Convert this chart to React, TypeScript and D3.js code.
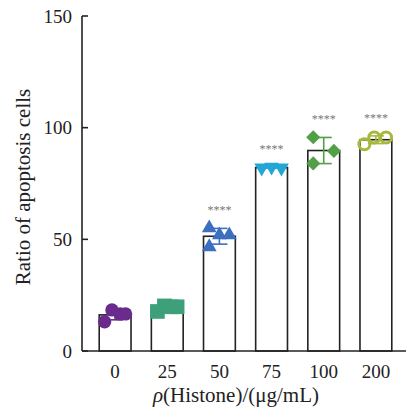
import React, { useEffect, useRef } from "react";
import * as d3 from "d3";

const groups = ["0", "25", "50", "75", "100", "200"];
const colors = ["#6a2c8c", "#3da07a", "#3d6fc0", "#21a6d6", "#52a046", "#a8b83a"];
const shapes = ["circle", "square", "triangle", "triangleDown", "diamond", "ring"];

// replicate values per group
const g0 = [13.1, 18.4, 16.6, 16.6];
const g25 = [17.7, 20.2, 19.8, 19.8];
const g50 = [55.1, 46.6, 51.9, 51.9];
const g75 = [82.0, 82.4, 82.0];
const g100 = [95.7, 89.6, 84.0];
const g200 = [92.6, 95.6, 95.6];
const values = [g0, g25, g50, g75, g100, g200];

// horizontal spread of the dots, as fraction of bar width
const spread = [
  [-0.33, -0.1, 0.16, 0.33],
  [-0.31, -0.09, 0.12, 0.31],
  [-0.32, -0.32, 0, 0.31],
  [-0.31, 0, 0.31],
  [-0.33, 0.32, -0.33],
  [-0.36, -0.05, 0.32],
];

const stars = ["", "", "****", "****", "****", "****"];
const yTicks = [0, 50, 100, 150];

const App = () => {
  const svgRef = useRef(null);

  useEffect(() => {
    const svg = d3.select(svgRef.current);
    svg.selectAll("*").remove();

    const width = 406;
    const height = 409;
    const font = "'Liberation Serif', 'Times New Roman', serif";
    const x0 = 82;
    const yBase = 351;

    const x = d3.scaleBand().domain(groups).range([x0, 409]).paddingInner(0.39).paddingOuter(0.33);
    const y = d3.scaleLinear().domain([0, 150]).range([yBase, 16]);
    const bw = x.bandwidth();

    svg.attr("width", width).attr("height", height);

    const stats = values.map((v) => ({ mean: d3.mean(v), sd: d3.deviation(v) || 0 }));

    // bars
    svg
      .selectAll(".bar")
      .data(groups)
      .join("rect")
      .attr("class", "bar")
      .attr("x", (d) => x(d))
      .attr("y", (d, i) => y(stats[i].mean))
      .attr("width", bw)
      .attr("height", (d, i) => yBase - y(stats[i].mean))
      .attr("fill", "white")
      .attr("stroke", "#222")
      .attr("stroke-width", 1.6);

    // error bars
    groups.forEach((gName, i) => {
      const cx = x(gName) + bw / 2;
      const { mean, sd } = stats[i];
      const eg = svg.append("g").attr("stroke", colors[i]).attr("stroke-width", 1.6);
      eg.append("line").attr("x1", cx).attr("x2", cx).attr("y1", y(mean - sd)).attr("y2", y(mean + sd));
      [mean - sd, mean + sd].forEach((v) => {
        eg.append("line").attr("x1", cx - 8).attr("x2", cx + 8).attr("y1", y(v)).attr("y2", y(v));
      });
    });

    // dots
    const symbolFor = (s) => {
      if (s === "circle") return d3.symbol(d3.symbolCircle, 140)();
      if (s === "square") return d3.symbol(d3.symbolSquare, 215)();
      if (s === "triangle" || s === "triangleDown") return d3.symbol(d3.symbolTriangle, 95)();
      if (s === "diamond") return d3.symbol(d3.symbolSquare, 100)();
      return d3.symbol(d3.symbolCircle, 95)();
    };

    groups.forEach((gName, i) => {
      const cx = x(gName) + bw / 2;
      const s = shapes[i];
      svg
        .append("g")
        .selectAll("path")
        .data(values[i])
        .join("path")
        .attr("d", symbolFor(s))
        .attr("transform", (v, j) => {
          const rot = s === "triangleDown" ? " rotate(180)" : s === "diamond" ? " rotate(45)" : "";
          return `translate(${cx + spread[i][j] * bw},${y(v)})${rot}`;
        })
        .attr("fill", s === "ring" ? "none" : colors[i])
        .attr("stroke", s === "ring" ? colors[i] : "none")
        .attr("stroke-width", 3);
    });

    // significance
    svg
      .selectAll(".star")
      .data(groups)
      .join("text")
      .attr("class", "star")
      .attr("x", (d) => x(d) + bw / 2)
      .attr("y", (d, i) => y(stats[i].mean + stats[i].sd) - 14)
      .attr("text-anchor", "middle")
      .attr("font-family", font)
      .attr("font-size", 12)
      .attr("fill", "#777")
      .text((d, i) => stars[i]);

    // axes
    svg
      .append("line")
      .attr("x1", x0)
      .attr("x2", width)
      .attr("y1", yBase)
      .attr("y2", yBase)
      .attr("stroke", "#222")
      .attr("stroke-width", 1.6);
    svg
      .append("line")
      .attr("x1", x0)
      .attr("x2", x0)
      .attr("y1", y(150))
      .attr("y2", yBase)
      .attr("stroke", "#222")
      .attr("stroke-width", 1.6);

    svg
      .selectAll(".ytick")
      .data(yTicks)
      .join("line")
      .attr("class", "ytick")
      .attr("x1", x0)
      .attr("x2", x0 + 6)
      .attr("y1", (d) => y(d))
      .attr("y2", (d) => y(d))
      .attr("stroke", "#222")
      .attr("stroke-width", 1.6);

    svg
      .selectAll(".ylab")
      .data(yTicks)
      .join("text")
      .attr("class", "ylab")
      .attr("x", x0 - 10)
      .attr("y", (d) => y(d))
      .attr("dy", "0.35em")
      .attr("text-anchor", "end")
      .attr("font-family", font)
      .attr("font-size", 19)
      .attr("fill", "#222")
      .text((d) => d);

    svg
      .selectAll(".xlab")
      .data(groups)
      .join("text")
      .attr("class", "xlab")
      .attr("x", (d) => x(d) + bw / 2)
      .attr("y", 378)
      .attr("text-anchor", "middle")
      .attr("font-family", font)
      .attr("font-size", 19)
      .attr("fill", "#222")
      .text((d) => d);

    const xt = svg
      .append("text")
      .attr("x", 236)
      .attr("y", 402)
      .attr("text-anchor", "middle")
      .attr("font-family", font)
      .attr("font-size", 21)
      .attr("fill", "#222");
    xt.append("tspan").attr("font-style", "italic").text("ρ");
    xt.append("tspan").text("(Histone)/(μg/mL)");

    svg
      .append("text")
      .attr("transform", "translate(30,187) rotate(-90)")
      .attr("text-anchor", "middle")
      .attr("font-family", font)
      .attr("font-size", 21)
      .attr("fill", "#222")
      .text("Ratio of apoptosis cells");
  }, []);

  return (
    <div style={{ position: "absolute", left: 0, top: 0 }}>
      <svg ref={svgRef} style={{ display: "block" }}></svg>
    </div>
  );
};

export default App;
